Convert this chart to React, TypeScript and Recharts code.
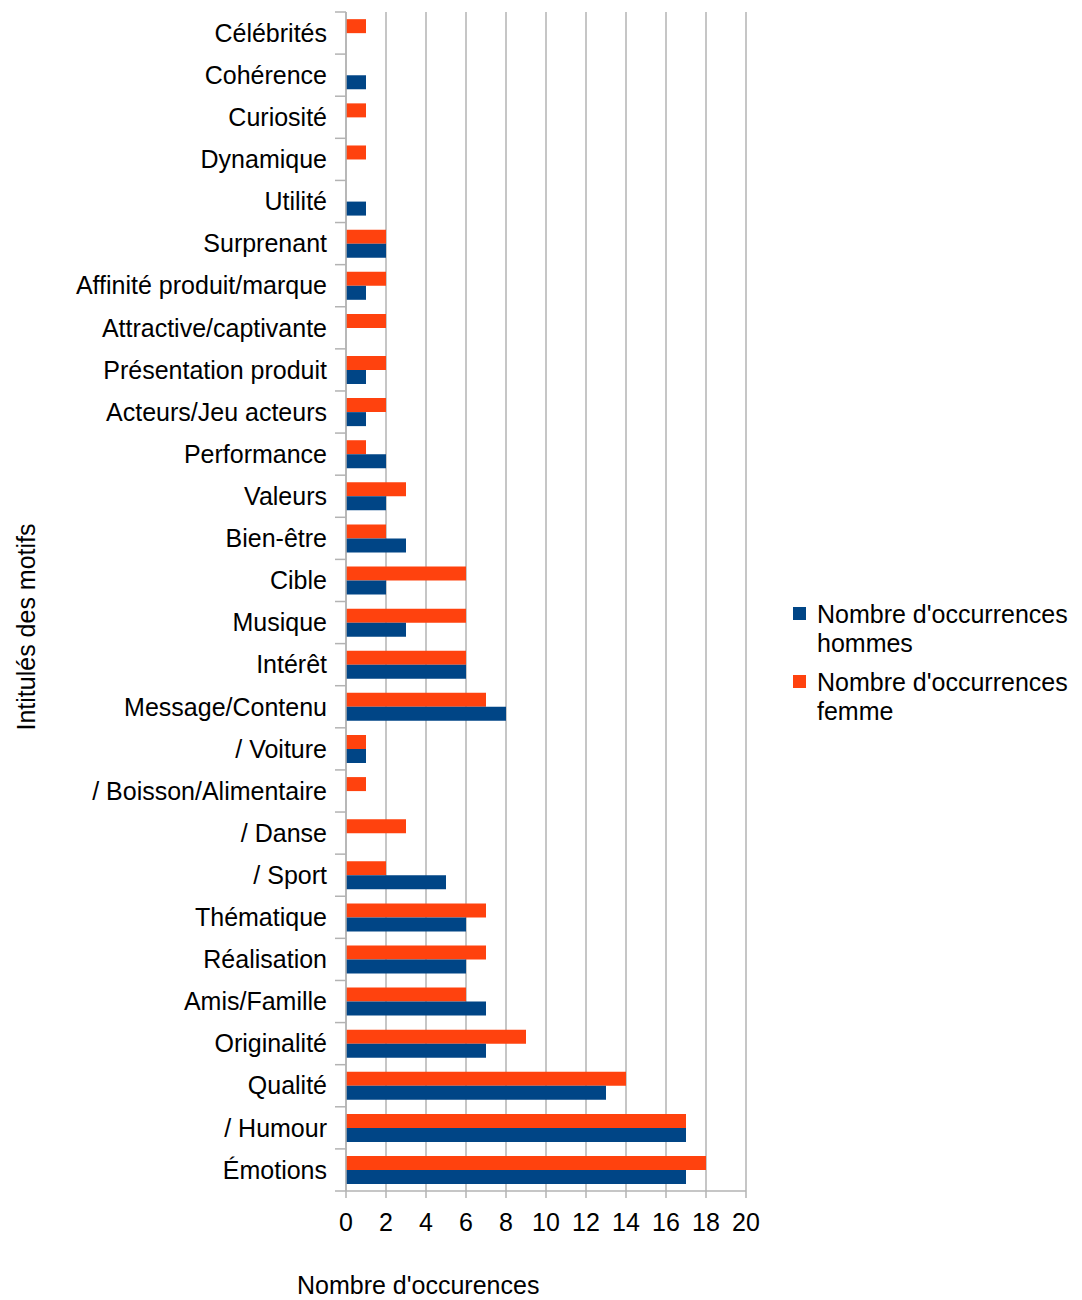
import { BarChart, Bar, XAxis, YAxis, CartesianGrid } from 'recharts'

const categories = [
  'Célébrités', 'Cohérence', 'Curiosité', 'Dynamique', 'Utilité', 'Surprenant',
  'Affinité produit/marque', 'Attractive/captivante', 'Présentation produit',
  'Acteurs/Jeu acteurs', 'Performance', 'Valeurs', 'Bien-être', 'Cible', 'Musique',
  'Intérêt', 'Message/Contenu', '/ Voiture', '/ Boisson/Alimentaire', '/ Danse',
  '/ Sport', 'Thématique', 'Réalisation', 'Amis/Famille', 'Originalité', 'Qualité',
  '/ Humour', 'Émotions',
]
const hommes = [0, 1, 0, 0, 1, 2, 1, 0, 1, 1, 2, 2, 3, 2, 3, 6, 8, 1, 0, 0, 5, 6, 6, 7, 7, 13, 17, 17]
const femme = [1, 0, 1, 1, 0, 2, 2, 2, 2, 2, 1, 3, 2, 6, 6, 6, 7, 1, 1, 3, 2, 7, 7, 6, 9, 14, 17, 18]
const xTicks = [0, 2, 4, 6, 8, 10, 12, 14, 16, 18, 20]

const BLUE = '#004586'
const ORANGE = '#ff420e'
const GRID = '#b3b3b3'
const FONT = '"Liberation Sans", Arial, sans-serif'

const W = 1082
const H = 1300
const PLOT_LEFT = 346
const PLOT_RIGHT = 746
const PLOT_TOP = 12
const PLOT_BOTTOM = 1191
const X_AXIS_H = 45
const BAND = (PLOT_BOTTOM - PLOT_TOP) / categories.length

const data = categories.map((name, i) => ({ name, hommes: hommes[i], femme: femme[i] }))

// category ticks sit on the band boundaries, like the original
function CategoryTick(props: any) {
  const { y, payload, index } = props
  const top = y - BAND / 2
  const isLast = index === categories.length - 1
  return (
    <g>
      <line x1={PLOT_LEFT - 11} x2={PLOT_LEFT} y1={top} y2={top} stroke={GRID} strokeWidth={1.5} />
      {isLast && (
        <line x1={PLOT_LEFT - 11} x2={PLOT_LEFT} y1={top + BAND} y2={top + BAND} stroke={GRID} strokeWidth={1.5} />
      )}
      <text x={PLOT_LEFT - 19} y={y} dy="0.35em" textAnchor="end" fill="#000" fontSize={25} fontFamily={FONT}>
        {payload.value}
      </text>
    </g>
  )
}

function LegendBox() {
  const items = [
    { color: BLUE, lines: ["Nombre d'occurrences", 'hommes'] },
    { color: ORANGE, lines: ["Nombre d'occurrences", 'femme'] },
  ]
  return (
    <div style={{ fontFamily: FONT, fontSize: 25, color: '#000', lineHeight: '29px' }}>
      {items.map((it, i) => (
        <div key={i} style={{ display: 'flex', alignItems: 'flex-start', marginBottom: 10 }}>
          <span style={{ width: 13, height: 13, background: it.color, marginTop: 7, marginRight: 11, flexShrink: 0 }} />
          <div>
            {it.lines.map((l, j) => (
              <div key={j}>{l}</div>
            ))}
          </div>
        </div>
      ))}
    </div>
  )
}

export default function App() {
  return (
    <div style={{ position: 'absolute', left: 0, top: 0, width: W, height: H, background: '#fff' }}>
      <BarChart
        width={W}
        height={H}
        data={data}
        layout="vertical"
        barCategoryGap="17%"
        barGap={0}
        margin={{ top: PLOT_TOP, right: W - PLOT_RIGHT, bottom: H - PLOT_BOTTOM - X_AXIS_H, left: 0 }}
      >
        <CartesianGrid horizontal={false} stroke={GRID} strokeWidth={1.5} />
        <XAxis
          type="number"
          domain={[0, 20]}
          ticks={xTicks}
          interval={0}
          height={X_AXIS_H}
          axisLine={{ stroke: GRID, strokeWidth: 1.5 }}
          tickLine={{ stroke: GRID, strokeWidth: 1.5 }}
          tickSize={7}
          tickMargin={15}
          tick={{ fill: '#000', fontSize: 25, fontFamily: FONT }}
        />
        <XAxis
          xAxisId="top"
          orientation="top"
          type="number"
          domain={[0, 20]}
          height={0}
          tick={false}
          tickLine={false}
          axisLine={{ stroke: GRID, strokeWidth: 1.5 }}
        />
        <YAxis
          type="category"
          dataKey="name"
          width={PLOT_LEFT}
          interval={0}
          tickLine={false}
          axisLine={{ stroke: GRID, strokeWidth: 1.5 }}
          tick={<CategoryTick />}
        />
        <Bar dataKey="femme" name="Nombre d'occurrences femme" fill={ORANGE} isAnimationActive={false} />
        <Bar dataKey="hommes" name="Nombre d'occurrences hommes" fill={BLUE} isAnimationActive={false} />
      </BarChart>
      <div style={{ position: 'absolute', left: 793, top: 600 }}>
        <LegendBox />
      </div>
      <div
        style={{
          position: 'absolute', left: 297, top: 1271, fontFamily: FONT, fontSize: 25, color: '#000', whiteSpace: 'nowrap',
        }}
      >
        Nombre d'occurences
      </div>
      <div
        style={{
          position: 'absolute', left: 26, top: 627, fontFamily: FONT, fontSize: 25, color: '#000', whiteSpace: 'nowrap',
          transform: 'translate(-50%, -50%) rotate(-90deg)',
        }}
      >
        Intitulés des motifs
      </div>
    </div>
  )
}
